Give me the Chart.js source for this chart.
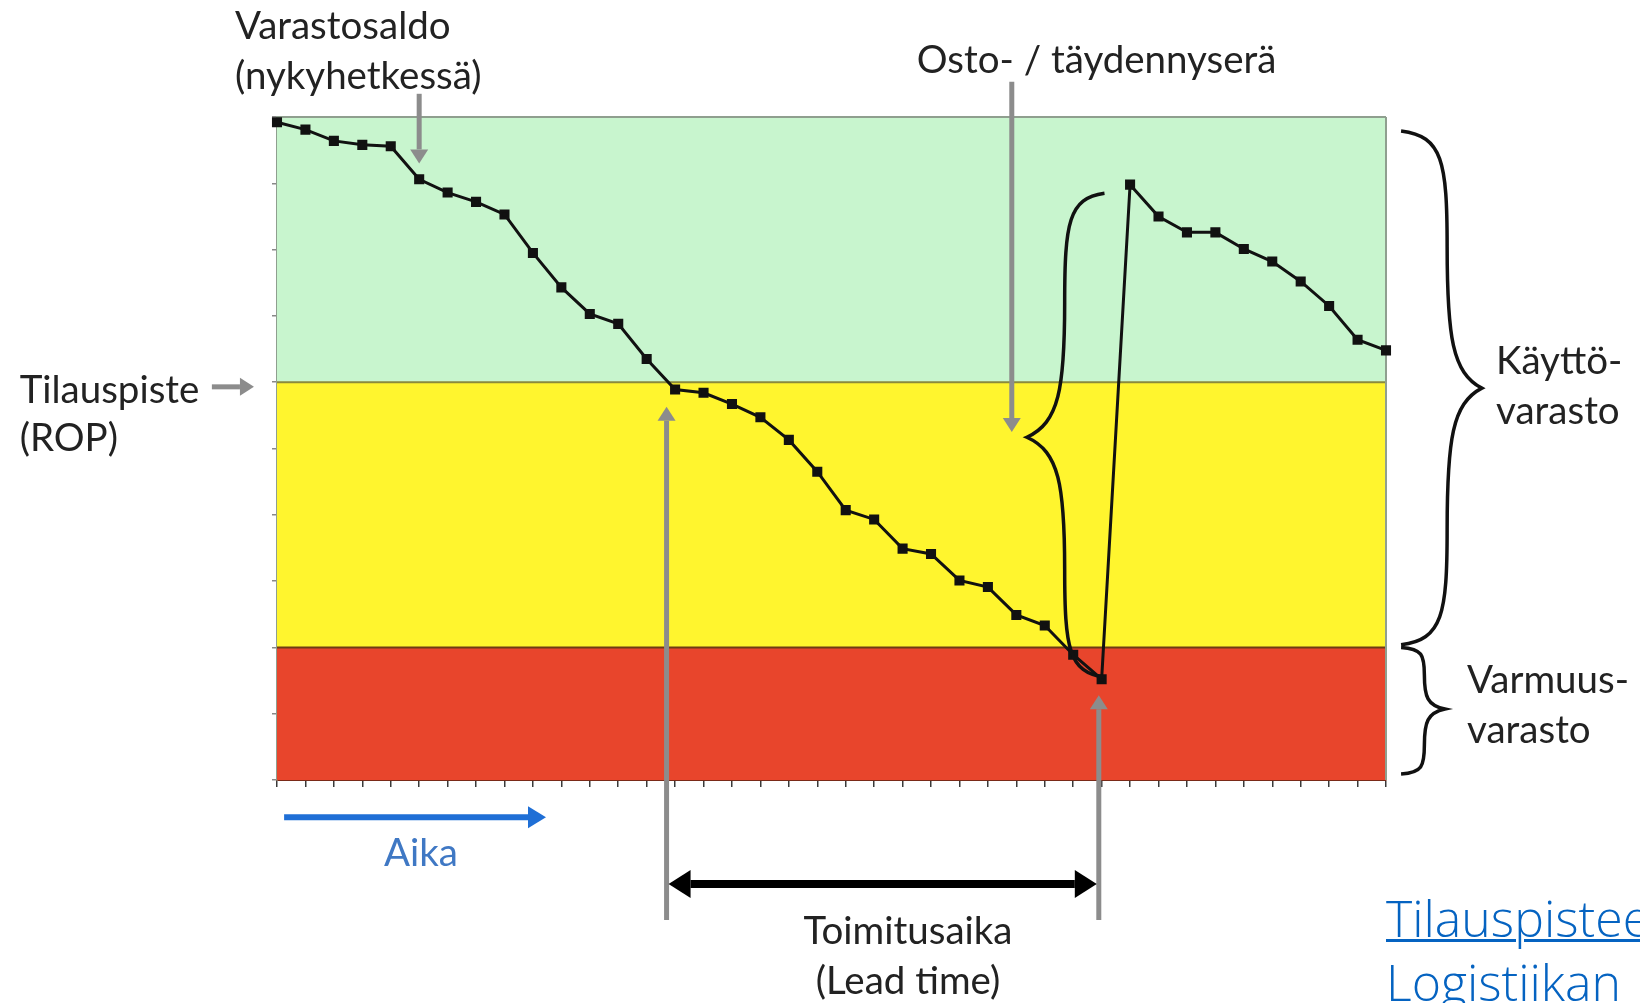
<!DOCTYPE html>
<html lang="fi">
<head>
<meta charset="utf-8">
<title>Tilauspiste (ROP)</title>
<script src="https://cdn.jsdelivr.net/npm/chart.js@4.4.1/dist/chart.umd.min.js"></script>
<style>
  html, body { margin: 0; padding: 0; background: #fff; overflow: hidden; }
  #wrap { position: relative; width: 1640px; height: 1003px; }
  #source {
    position: absolute; left: 1386px; top: 886px;
    font-family: 'Open Sans', sans-serif; font-weight: 300;
    font-size: 50px; line-height: 64px; color: #0563c1; white-space: nowrap;
  }
  #source a { color: #0563c1; text-decoration-thickness: 3px; }
</style>
</head>
<body>
<div id="wrap">
  <canvas id="chart"></canvas>
  <div id="source"><a href="#">Tilauspistee</a><br>Logistiikan</div>
</div>
<script>
// Time periods on the x axis
const periods = [0, 1, 2, 3, 4, 5, 6, 7, 8, 9, 10, 11, 12, 13, 14, 15, 16, 17, 18, 19,
                 20, 21, 22, 23, 24, 25, 26, 27, 28, 29, 30, 31, 32, 33, 34, 35, 36, 37, 38, 39];

// Stock level per period
const stockLevel = [9.92, 9.81, 9.64, 9.58, 9.56, 9.06, 8.86, 8.72, 8.53, 7.95,
                    7.43, 7.03, 6.88, 6.35, 5.89, 5.84, 5.67, 5.47, 5.13, 4.65,
                    4.07, 3.93, 3.49, 3.41, 3.01, 2.91, 2.49, 2.33, 1.89, 1.52,
                    8.98, 8.50, 8.26, 8.26, 8.01, 7.82, 7.52, 7.15, 6.64, 6.48];

// Zones: safety stock (0-2), reorder zone (2-6), cycle stock above ROP (6-10)
const zoneLimits = [0, 2, 6, 10];
const zoneColors = ['#e8452c', '#fff52e', '#c8f5ce'];
const zoneTopBorders = ['#6e3a14', '#8a8a3c', '#8f9f8f'];

const ink = '#222';
const grey = '#8c8c8c';
const blue = '#1f6fd6';
const labelFont = '38.5px Lato';

// Coloured zones behind the line
const zonesPlugin = {
    id: 'zones',
    beforeDatasetsDraw(chart) {
        const ctx = chart.ctx;
        const { left, right } = chart.chartArea;
        const y = chart.scales.y;
        ctx.save();
        for (let i = 0; i < zoneColors.length; i++) {
            const top = y.getPixelForValue(zoneLimits[i + 1]);
            const bottom = y.getPixelForValue(zoneLimits[i]);
            ctx.fillStyle = zoneColors[i];
            ctx.fillRect(left, top, right - left, bottom - top);
        }
        for (let i = 0; i < zoneColors.length; i++) {
            const top = y.getPixelForValue(zoneLimits[i + 1]);
            ctx.strokeStyle = zoneTopBorders[i];
            ctx.lineWidth = 2;
            ctx.beginPath();
            ctx.moveTo(left, top);
            ctx.lineTo(right, top);
            ctx.stroke();
        }
        // right edge of the plot
        ctx.strokeStyle = '#8f9f8f';
        ctx.beginPath();
        ctx.moveTo(right, chart.chartArea.top);
        ctx.lineTo(right, chart.chartArea.bottom);
        ctx.stroke();
        ctx.restore();
    }
};

function arrow(ctx, x1, y1, x2, y2, color, width, len, half) {
    const a = Math.atan2(y2 - y1, x2 - x1);
    const bx = x2 - Math.cos(a) * len, by = y2 - Math.sin(a) * len;
    ctx.strokeStyle = color;
    ctx.fillStyle = color;
    ctx.lineWidth = width;
    ctx.beginPath();
    ctx.moveTo(x1, y1);
    ctx.lineTo(bx, by);
    ctx.stroke();
    ctx.beginPath();
    ctx.moveTo(x2, y2);
    ctx.lineTo(bx + Math.sin(a) * half, by - Math.cos(a) * half);
    ctx.lineTo(bx - Math.sin(a) * half, by + Math.cos(a) * half);
    ctx.closePath();
    ctx.fill();
}

// Curly brace: ends at xe, spine at xs, tip at xt
function brace(ctx, xe, xs, xt, y0, ym, y1) {
    const d = xs - xe, t = xt - xs;
    const h0 = ym - y0, h1 = y1 - ym;
    ctx.strokeStyle = '#111';
    ctx.lineWidth = 3.5;
    ctx.beginPath();
    ctx.moveTo(xe, y0);
    ctx.bezierCurveTo(xe + d * 0.9, y0 + h0 * 0.02, xs, y0 + h0 * 0.12, xs, y0 + h0 * 0.45);
    ctx.bezierCurveTo(xs, y0 + h0 * 0.8, xs + t * 0.15, ym - h0 * 0.06, xt, ym);
    ctx.bezierCurveTo(xs + t * 0.15, ym + h1 * 0.06, xs, ym + h1 * 0.2, xs, ym + h1 * 0.55);
    ctx.bezierCurveTo(xs, y1 - h1 * 0.12, xe + d * 0.9, y1 - h1 * 0.02, xe, y1);
    ctx.stroke();
}

function label(ctx, text, x, y, align, color) {
    ctx.font = labelFont;
    ctx.fillStyle = color || ink;
    ctx.textAlign = align || 'left';
    ctx.textBaseline = 'alphabetic';
    ctx.fillText(text, x, y);
}

// Arrows, braces and texts around the chart (positions in axis units)
const notesPlugin = {
    id: 'notes',
    afterDraw(chart) {
        const ctx = chart.ctx;
        const px = v => chart.scales.x.getPixelForValue(v);
        const py = v => chart.scales.y.getPixelForValue(v);
        ctx.save();
        ctx.lineCap = 'butt';

        // current stock
        label(ctx, 'Varastosaldo', px(-1.48), py(11.18));
        label(ctx, '(nykyhetkessä)', px(-1.48), py(10.42));
        arrow(ctx, px(5), py(10.35), px(5), py(9.3), grey, 5, 14, 9);

        // order quantity
        label(ctx, 'Osto- / täydennyserä', px(22.5), py(10.66));
        arrow(ctx, px(25.84), py(10.53), px(25.84), py(5.25), grey, 5, 14, 9);
        brace(ctx, px(29.1), px(27.7), px(26.37), py(8.85), py(5.17), py(1.55));

        // reorder point
        label(ctx, 'Tilauspiste', px(-9.05), py(5.69));
        label(ctx, '(ROP)', px(-9.05), py(4.96));
        arrow(ctx, px(-2.29), py(5.93), px(-0.81), py(5.93), grey, 5, 14, 9);

        // zone braces on the right
        brace(ctx, px(39.53), px(41.15), px(42.37), py(9.79), py(5.91), py(2.04));
        label(ctx, 'Käyttö-', px(42.87), py(6.12));
        label(ctx, 'varasto', px(42.87), py(5.37));
        brace(ctx, px(39.53), px(40.35), px(41.07), py(2.0), py(1.07), py(0.09));
        label(ctx, 'Varmuus-', px(41.85), py(1.31));
        label(ctx, 'varasto', px(41.85), py(0.56));

        // time arrow
        arrow(ctx, px(0.25), py(-0.56), px(9.46), py(-0.56), blue, 6, 18, 11);
        label(ctx, 'Aika', px(5.06), py(-1.30), 'center', '#3f78c4');

        // lead time
        arrow(ctx, px(13.7), py(-2.11), px(13.7), py(5.63), grey, 5, 14, 9);
        arrow(ctx, px(28.9), py(-2.11), px(28.9), py(1.28), grey, 5, 14, 9);
        const mid = (px(13.7) + px(28.9)) / 2;
        arrow(ctx, mid + 1, py(-1.57), px(13.7) + 2, py(-1.57), '#000', 8, 22, 14);
        arrow(ctx, mid - 1, py(-1.57), px(28.9) - 2, py(-1.57), '#000', 8, 22, 14);
        label(ctx, 'Toimitusaika', px(22.19), py(-2.47), 'center');
        label(ctx, '(Lead time)', px(22.19), py(-3.23), 'center');

        ctx.restore();
    }
};

const canvas = document.getElementById('chart');
canvas.width = 1640;
canvas.height = 1003;
const ctx = canvas.getContext('2d');

new Chart(ctx, {
    type: 'line',
    data: {
        datasets: [{
            label: 'Varastosaldo',
            data: periods.map((p, i) => ({ x: p, y: stockLevel[i] })),
            borderColor: '#111',
            borderWidth: 3,
            pointStyle: 'rect',
            pointRadius: 5,
            pointBackgroundColor: '#111',
            pointBorderColor: '#111',
            tension: 0,
            clip: false
        }]
    },
    options: {
        responsive: false,
        animation: false,
        events: [],
        layout: {
            padding: { left: 277, top: 117, right: 254, bottom: 223 }
        },
        plugins: {
            legend: { display: false },
            tooltip: { enabled: false }
        },
        scales: {
            x: {
                type: 'linear',
                min: 0,
                max: 39,
                ticks: { display: false, stepSize: 1 },
                grid: { drawOnChartArea: false, drawTicks: true, tickLength: 7, color: '#3a3a3a', lineWidth: 1.5 },
                border: { color: '#7a2a18', width: 2 },
                afterFit: s => { s.height = 0; }
            },
            y: {
                min: 0,
                max: 10,
                ticks: { display: false, stepSize: 1 },
                grid: { drawOnChartArea: false, drawTicks: true, tickLength: 5, color: '#888', lineWidth: 1.5 },
                border: { color: '#8f9f8f', width: 2 },
                afterFit: s => { s.width = 0; }
            }
        }
    },
    plugins: [zonesPlugin, notesPlugin]
});
</script>
</body>
</html>
